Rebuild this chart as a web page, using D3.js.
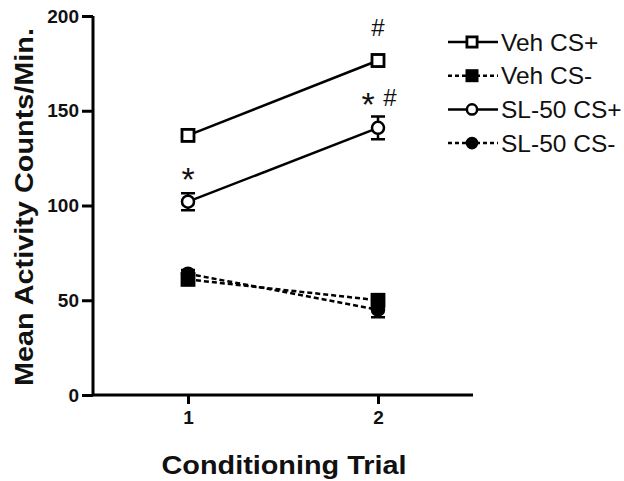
<!DOCTYPE html>
<html><head><meta charset="utf-8">
<script src="https://cdn.jsdelivr.net/npm/d3@7"></script>
<style>body{margin:0;background:#fff}svg{display:block;font-family:"Liberation Sans",Arial,sans-serif}</style>
</head><body><svg id="c" width="624" height="481"></svg>
<script>
const trials = [1, 2];
const seriesNames = ["Veh CS+", "Veh CS-", "SL-50 CS+", "SL-50 CS-"];
const vehCSplus = [137, 176.5];
const vehCSplusErr = [3, 3];
const vehCSminus = [61, 50];
const vehCSminusErr = [2, 3];
const slCSplus = [102, 141];
const slCSplusErr = [4.5, 6];
const slCSminus = [64, 45];
const slCSminusErr = [2, 4];
const yTicks = [0, 50, 100, 150, 200];
const annotations = [
  {trial: 1, value: 107.5, text: "*"},
  {trial: 2, value: 147, text: "*"},
  {trial: 2, value: 152.7, text: "#"},
  {trial: 2, value: 189.7, text: "#"}
];

const series = [
  {name: seriesNames[0], values: vehCSplus, err: vehCSplusErr, shape: "square", filled: false, dashed: false},
  {name: seriesNames[1], values: vehCSminus, err: vehCSminusErr, shape: "square", filled: true, dashed: true},
  {name: seriesNames[2], values: slCSplus, err: slCSplusErr, shape: "circle", filled: false, dashed: false},
  {name: seriesNames[3], values: slCSminus, err: slCSminusErr, shape: "circle", filled: true, dashed: true}
];

const svg = d3.select("#c");
const x = d3.scaleLinear().domain([0.5, 2.5]).range([93, 473]);
const y = d3.scaleLinear().domain([0, 200]).range([395, 16]);

// axes
const yAxis = svg.append("g").attr("transform", `translate(${x(0.5)},0)`)
  .call(d3.axisLeft(y).tickValues(yTicks).tickSize(11).tickPadding(3));
const xAxis = svg.append("g").attr("transform", `translate(0,${y(0)})`)
  .call(d3.axisBottom(x).tickValues(trials).tickSize(9).tickPadding(7).tickFormat(d3.format("d")));
[yAxis, xAxis].forEach(g => {
  g.select(".domain").attr("stroke", "#000").attr("stroke-width", 3);
  g.selectAll(".tick line").attr("stroke", "#000").attr("stroke-width", 3);
  g.selectAll(".tick text").attr("fill", "#111").style("font-size", "19px").style("font-weight", "bold")
   .style("font-family", '"Liberation Sans",Arial,sans-serif');
});
yAxis.select(".domain").attr("d", `M0,${y(200)}V${y(0)}`);
xAxis.select(".domain").attr("d", `M${x(0.5)},0H${x(2.5)}`);

svg.append("text").attr("x", x(1.5) + 1).attr("y", 474).attr("text-anchor", "middle")
  .attr("textLength", 245).attr("lengthAdjust", "spacingAndGlyphs")
  .style("font-size", "26px").style("font-weight", "bold").attr("fill", "#111").text("Conditioning Trial");
svg.append("text").attr("transform", `translate(33,207) rotate(-90)`).attr("text-anchor", "middle")
  .attr("textLength", 358).attr("lengthAdjust", "spacingAndGlyphs")
  .style("font-size", "25px").style("font-weight", "bold").attr("fill", "#111").text("Mean Activity Counts/Min.");

function marker(g, s, cx, cy, scale) {
  const k = scale || 1;
  if (s.shape === "square") {
    g.append("rect").attr("x", cx - 6 * k).attr("y", cy - 6 * k).attr("width", 12 * k).attr("height", 12 * k)
      .attr("fill", s.filled ? "#000" : "#fff").attr("stroke", "#000").attr("stroke-width", 2.8);
  } else {
    g.append("circle").attr("cx", cx).attr("cy", cy).attr("r", 6 * k)
      .attr("fill", s.filled ? "#000" : "#fff").attr("stroke", "#000").attr("stroke-width", 2.5);
  }
}

const line = d3.line().x((d, i) => x(trials[i])).y(d => y(d));
series.forEach(s => {
  const g = svg.append("g");
  g.append("path").attr("d", line(s.values)).attr("fill", "none").attr("stroke", "#000")
    .attr("stroke-width", 2.5).attr("stroke-dasharray", s.dashed ? "5,3" : null);
  s.values.forEach((v, i) => {
    const cx = x(trials[i]);
    const hi = y(v + s.err[i]), lo = y(v - s.err[i]);
    g.append("path").attr("d", `M${cx},${hi}V${lo}M${cx - 7},${hi}H${cx + 7}M${cx - 7},${lo}H${cx + 7}`)
      .attr("stroke", "#000").attr("stroke-width", 2.5).attr("fill", "none");
    marker(g, s, cx, y(v));
  });
});

// annotation glyphs: pairs at the same trial are spread side by side
annotations.forEach(a => {
  const paired = annotations.filter(b => b.trial === a.trial && Math.abs(b.value - a.value) < 10 && b !== a).length > 0;
  let dx = 0;
  if (paired) dx = a.text === "*" ? -10 : 12;
  svg.append("text").attr("x", x(a.trial) + dx).attr("y", y(a.value)).attr("text-anchor", "middle")
    .style("font-size", a.text === "#" ? "24px" : "34px").attr("fill", "#111")
    .text(a.text);
});

// legend
const legend = svg.append("g");
series.forEach((s, i) => {
  const ly = 42 + i * 33.7;
  legend.append("path").attr("d", `M448,${ly}H498`).attr("stroke", "#000").attr("stroke-width", 2.5)
    .attr("stroke-dasharray", s.dashed ? "4,3" : null);
  marker(legend, s, 472, ly, 0.85);
  legend.append("text").attr("x", 501).attr("y", ly + 8.5).style("font-size", "24.5px").attr("fill", "#111").text(s.name);
});
</script></body></html>
